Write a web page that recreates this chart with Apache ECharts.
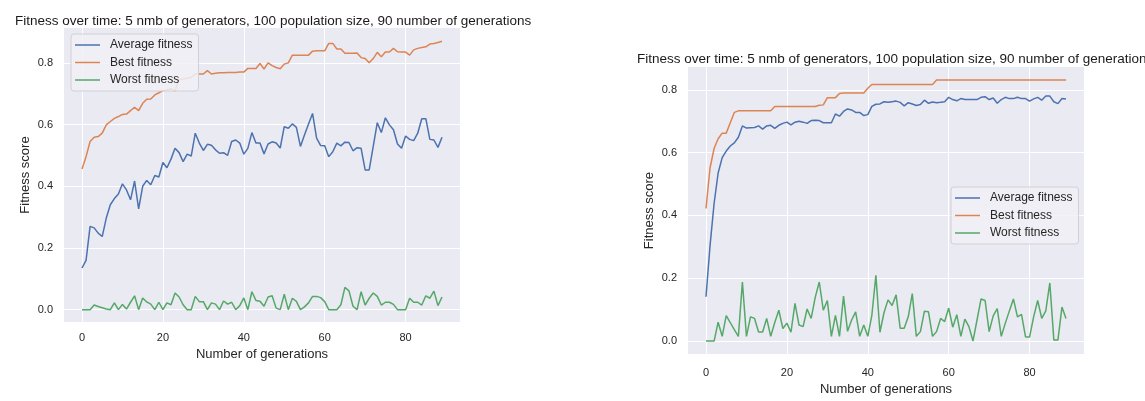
<!DOCTYPE html>
<html>
<head>
<meta charset="utf-8">
<script src="https://cdn.jsdelivr.net/npm/echarts@6/dist/echarts.min.js"></script>
<style>
  html, body { margin: 0; padding: 0; background: #ffffff; }
  #chart { width: 1145px; height: 401px; }
</style>
</head>
<body>
<div id="chart"></div>
<script>
// Run A (left panel): fitness per generation
const avgA = [0.135, 0.16, 0.27, 0.265, 0.248, 0.237, 0.297, 0.34, 0.36, 0.375,
  0.408, 0.388, 0.356, 0.417, 0.327, 0.40, 0.419, 0.405, 0.435, 0.43,
  0.477, 0.46, 0.488, 0.523, 0.509, 0.48, 0.504, 0.498, 0.572, 0.54,
  0.516, 0.536, 0.533, 0.518, 0.507, 0.509, 0.50, 0.545, 0.55, 0.54,
  0.504, 0.523, 0.574, 0.54, 0.54, 0.505, 0.537, 0.544, 0.54, 0.524,
  0.593, 0.588, 0.602, 0.591, 0.529, 0.566, 0.602, 0.636, 0.556, 0.532,
  0.531, 0.496, 0.512, 0.54, 0.531, 0.543, 0.542, 0.515, 0.525, 0.523,
  0.453, 0.453, 0.529, 0.606, 0.574, 0.622, 0.599, 0.583, 0.537, 0.523,
  0.563, 0.552, 0.548, 0.572, 0.619, 0.619, 0.552, 0.55, 0.526, 0.559];
const bestA = [0.456, 0.496, 0.545, 0.559, 0.561, 0.572, 0.599, 0.61, 0.62, 0.626,
  0.633, 0.634, 0.645, 0.656, 0.645, 0.669, 0.682, 0.683, 0.696, 0.703,
  0.71, 0.712, 0.716, 0.709, 0.746, 0.748, 0.75, 0.753, 0.764, 0.764,
  0.764, 0.775, 0.764, 0.766, 0.768, 0.768, 0.769, 0.769, 0.769, 0.77,
  0.77, 0.782, 0.782, 0.782, 0.798, 0.78, 0.80, 0.791, 0.785, 0.781,
  0.796, 0.80, 0.825, 0.825, 0.825, 0.825, 0.825, 0.838, 0.839, 0.839,
  0.839, 0.863, 0.863, 0.845, 0.845, 0.831, 0.831, 0.831, 0.832, 0.817,
  0.814, 0.80, 0.814, 0.834, 0.82, 0.835, 0.835, 0.847, 0.836, 0.835,
  0.835, 0.825, 0.842, 0.847, 0.85, 0.852, 0.861, 0.863, 0.866, 0.87];
const worstA = [0, 0, 0, 0.015, 0.01, 0.006, 0.002, 0, 0.022, 0,
  0.017, 0.002, 0.024, 0.045, 0, 0.038, 0.025, 0.018, 0, 0.024,
  0, 0.022, 0.016, 0.054, 0.041, 0.016, 0, 0, 0.043, 0.026,
  0.026, 0, 0.022, 0.018, 0, 0.028, 0.018, 0.024, 0, 0.013,
  0.038, 0, 0.058, 0.03, 0.027, 0.011, 0.041, 0.045, 0.005, 0,
  0.05, 0, 0.037, 0.027, 0, 0.009, 0.022, 0.043, 0.043, 0.039,
  0.026, 0, 0, 0, 0.016, 0.072, 0.061, 0.011, 0, 0.058,
  0.015, 0.037, 0.054, 0.043, 0.015, 0.024, 0.024, 0.017, 0, 0,
  0, 0.037, 0.024, 0.024, 0.015, 0.045, 0.037, 0.06, 0.013, 0.041];

// Run B (right panel): fitness per generation
const avgB = [0.141, 0.304, 0.438, 0.535, 0.584, 0.605, 0.621, 0.631, 0.649, 0.685,
  0.678, 0.679, 0.68, 0.685, 0.675, 0.685, 0.687, 0.677, 0.687, 0.693,
  0.697, 0.688, 0.697, 0.70, 0.697, 0.693, 0.702, 0.703, 0.702, 0.695,
  0.695, 0.695, 0.723, 0.716, 0.731, 0.739, 0.736, 0.728, 0.728, 0.718,
  0.721, 0.747, 0.754, 0.755, 0.762, 0.76, 0.762, 0.764, 0.76, 0.749,
  0.759, 0.755, 0.75, 0.753, 0.767, 0.757, 0.761, 0.759, 0.76, 0.762,
  0.776, 0.769, 0.765, 0.772, 0.769, 0.769, 0.769, 0.769, 0.776, 0.778,
  0.769, 0.774, 0.757, 0.769, 0.776, 0.772, 0.772, 0.776, 0.772, 0.772,
  0.764, 0.771, 0.776, 0.767, 0.78, 0.78, 0.762, 0.756, 0.772, 0.771];
const bestB = [0.422, 0.551, 0.613, 0.644, 0.662, 0.662, 0.695, 0.728, 0.733, 0.733,
  0.733, 0.733, 0.733, 0.733, 0.733, 0.733, 0.733, 0.747, 0.747, 0.747,
  0.747, 0.747, 0.747, 0.747, 0.747, 0.747, 0.747, 0.747, 0.751, 0.752,
  0.775, 0.775, 0.775, 0.788, 0.79, 0.79, 0.79, 0.79, 0.79, 0.79,
  0.805, 0.817, 0.817, 0.817, 0.817, 0.817, 0.817, 0.817, 0.817, 0.817,
  0.817, 0.817, 0.817, 0.817, 0.817, 0.817, 0.817, 0.831, 0.831, 0.831,
  0.831, 0.831, 0.831, 0.831, 0.831, 0.831, 0.831, 0.831, 0.831, 0.831,
  0.831, 0.831, 0.831, 0.831, 0.831, 0.831, 0.831, 0.831, 0.831, 0.831,
  0.831, 0.831, 0.831, 0.831, 0.831, 0.831, 0.831, 0.831, 0.831, 0.831];
const worstB = [0, 0, 0, 0.06, 0.015, 0.081, 0.059, 0.036, 0.015, 0.188,
  0.015, 0.077, 0.072, 0.029, 0.029, 0.072, 0.015, 0.059, 0.098, 0.04,
  0.057, 0.028, 0.12, 0.051, 0.046, 0.102, 0.072, 0.139, 0.188, 0.098,
  0.129, 0.015, 0.082, 0.015, 0.143, 0.031, 0.067, 0.093, 0.015, 0.051,
  0.015, 0.082, 0.209, 0.028, 0.09, 0.131, 0.113, 0.147, 0.041, 0.041,
  0.077, 0.151, 0.015, 0.03, 0.095, 0.093, 0.015, 0.03, 0.072, 0.062,
  0.105, 0.044, 0.084, 0.015, 0.07, 0.046, 0, 0.067, 0.134, 0.129,
  0.03, 0.08, 0.103, 0.015, 0.057, 0.096, 0.134, 0.077, 0.085, 0.013,
  0.013, 0.077, 0.129, 0.072, 0.096, 0.185, 0.003, 0.003, 0.108, 0.072];

const xTicks = [0, 20, 40, 60, 80];
const yTicks = [0, 0.2, 0.4, 0.6, 0.8];
const titleText = 'Fitness over time: 5 nmb of generators, 100 population size, 90 number of generations';
const seriesNames = ['Average fitness', 'Best fitness', 'Worst fitness'];
const colors = ['#4C72B0', '#DD8452', '#55A868'];

const FONT = 'Liberation Sans, Arial, sans-serif';
const INK = '#262626';

function pairs(arr) { return arr.map((v, i) => [i, v]); }

function xAxisFor(gi, margin, gap) {
  return {
    type: 'value', gridIndex: gi, min: -4.45, max: 93.45,
    name: 'Number of generations', nameLocation: 'middle', nameGap: gap,
    nameTextStyle: { fontFamily: FONT, fontSize: 13, color: INK },
    axisLine: { show: false },
    axisTick: { show: false, customValues: xTicks },
    axisLabel: { customValues: xTicks, fontFamily: FONT, fontSize: 11, color: INK, margin: margin },
    splitLine: { show: true, lineStyle: { color: '#ffffff', width: 1 } }
  };
}
function yAxisFor(gi, min, max) {
  return {
    type: 'value', gridIndex: gi, min: min, max: max,
    name: 'Fitness score', nameLocation: 'middle', nameGap: 32, nameRotate: 90,
    nameTextStyle: { fontFamily: FONT, fontSize: 13, color: INK },
    axisLine: { show: false },
    axisTick: { show: false, customValues: yTicks },
    axisLabel: { customValues: yTicks, fontFamily: FONT, fontSize: 11, color: INK, margin: 11,
      formatter: v => v.toFixed(1) },
    splitLine: { show: true, lineStyle: { color: '#ffffff', width: 1 } }
  };
}
function lineSeries(name, data, color, gi) {
  return {
    type: 'line', name: name, data: pairs(data), xAxisIndex: gi, yAxisIndex: gi,
    showSymbol: false, symbol: 'none', lineStyle: { color: color, width: 1.5 },
    itemStyle: { color: color }, animation: false, silent: true
  };
}
function legendFor(left, top) {
  return {
    orient: 'vertical', left: left, top: top,
    data: seriesNames.map(n => ({ name: n })),
    icon: 'rect', itemWidth: 25, itemHeight: 1.5, itemGap: 3.5,
    padding: [4, 6, 4, 4],
    backgroundColor: 'rgba(240,240,246,0.85)', borderColor: '#d0d0d6', borderWidth: 1, borderRadius: 3,
    textStyle: { fontFamily: FONT, fontSize: 12, color: INK, padding: [0, 0, 0, 5], lineHeight: 14 },
    selectedMode: false
  };
}

const chart = echarts.init(document.getElementById('chart'), null, { renderer: 'canvas' });
chart.setOption({
  backgroundColor: '#ffffff',
  animation: false,
  title: [
    { text: titleText, left: 10, top: 9,
      textStyle: { fontFamily: FONT, fontSize: 13.5, fontWeight: 'normal', color: '#1a1a1a',
        width: 521, overflow: 'truncate', ellipsis: '' } },
    { text: titleText, left: 632, top: 47,
      textStyle: { fontFamily: FONT, fontSize: 13.5, fontWeight: 'normal', color: '#1a1a1a' } }
  ],
  grid: [
    { left: 64, top: 28, width: 396, height: 294, show: true, backgroundColor: '#EAEAF2', borderWidth: 0 },
    { left: 688, top: 67, width: 396, height: 293, show: true, backgroundColor: '#EAEAF2', borderWidth: 0 }
  ],
  xAxis: [xAxisFor(0, 10, 25), xAxisFor(1, 13, 28)],
  yAxis: [yAxisFor(0, -0.04, 0.913), yAxisFor(1, -0.0416, 0.8726)],
  legend: [legendFor(71, 34), legendFor(951, 187)],
  series: [
    lineSeries(seriesNames[0], avgA, colors[0], 0),
    lineSeries(seriesNames[1], bestA, colors[1], 0),
    lineSeries(seriesNames[2], worstA, colors[2], 0),
    lineSeries(seriesNames[0], avgB, colors[0], 1),
    lineSeries(seriesNames[1], bestB, colors[1], 1),
    lineSeries(seriesNames[2], worstB, colors[2], 1)
  ]
});
</script>
</body>
</html>
